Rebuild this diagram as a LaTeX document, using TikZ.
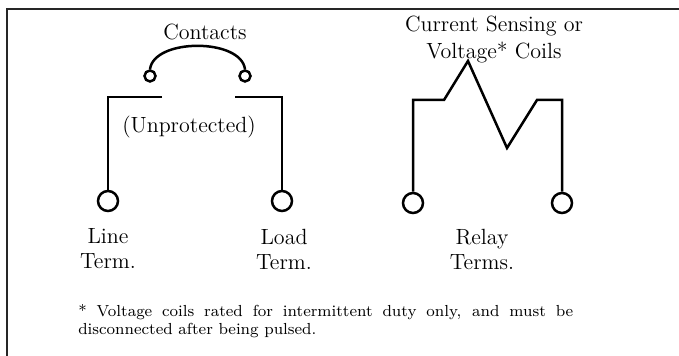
\documentclass[tikz,border=0pt]{standalone}
\usetikzlibrary{positioning}
\begin{document}
\begin{tikzpicture}[x=0.5pt, y=-0.5pt, line width=1.25pt, font=\fontsize{11}{12.5}\selectfont,
  term/.style={draw, circle, minimum size=10pt, inner sep=0pt},
  contact/.style={draw, circle, minimum size=5.5pt, inner sep=0pt},
  lbl/.style={align=center, inner sep=0pt}]
  \useasboundingbox (0,0) rectangle (679,356);
  \draw[line width=1.3pt, black!85] (7,356) -- (7,9) -- (679,9); % frame, top and left only

  % contacts
  \node[lbl] (contacts) at (205,32) {Contacts};
  \node[contact] (cont-l) at (150,76) {};
  \node[contact] (cont-r) at (245,76) {};
  \draw (cont-l.north) .. controls (154,38) and (241,38) .. (cont-r.north);

  \coordinate (wire-l) at (162,97);
  \coordinate (wire-r) at (235,97);
  \node[term] (line) at (108,201) {};
  \node[term] (load) at (282,201) {};
  \draw (wire-l) -| (line.north);
  \draw (wire-r) -| (load.north);
  \node[lbl] (unprot) at (189,127) {(Unprotected)};

  \node[lbl] (line-lbl) at (108,249) {Line\\Term.};
  \node[lbl] (load-lbl) at (284,249) {Load\\Term.};

  % coil
  \node[lbl] (coils) at (494,40) {Current Sensing or\\[1pt]Voltage* Coils};
  \node[term] (relay-l) at (413,203) {};
  \node[term] (relay-r) at (562,203) {};
  \coordinate (coil-0) at (444,100);
  \coordinate (coil-1) at (468,61);
  \coordinate (coil-2) at (507,148);
  \coordinate (coil-3) at (537,100);
  \draw (relay-l.north) |- (coil-0) -- (coil-1) -- (coil-2) -- (coil-3) -| (relay-r.north);
  \node[lbl] (relay-lbl) at (482,249) {Relay\\Terms.};

  \node[anchor=north west, text width=247.5pt, align=justify, inner sep=0pt,
    font=\fontsize{8}{9}\selectfont] (note) at (77,303)
    {* Voltage coils rated for intermittent duty only, and must be\linebreak disconnected after being pulsed.};
\end{tikzpicture}
\end{document}
